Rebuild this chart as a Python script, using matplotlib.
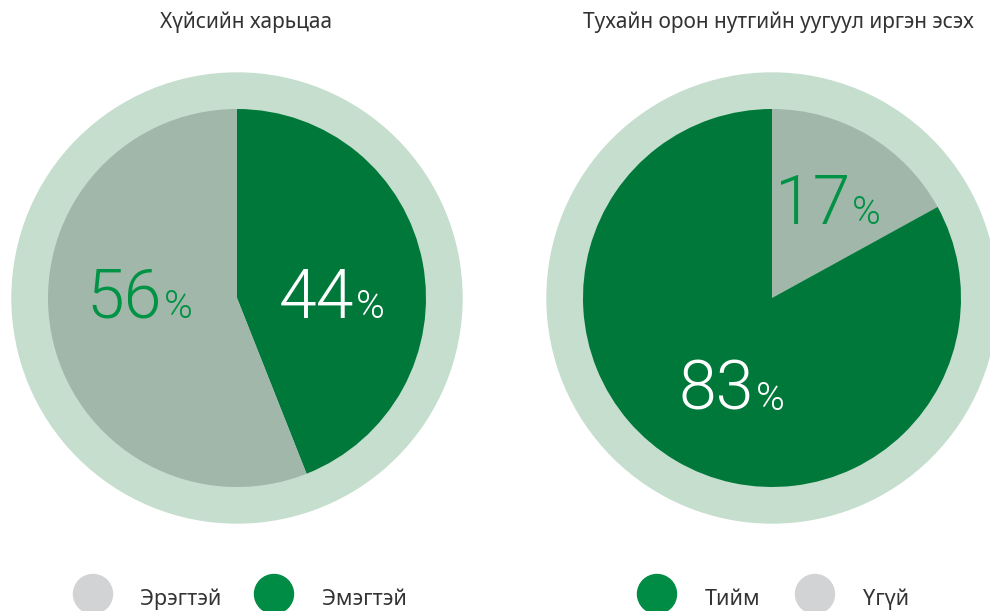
import matplotlib
matplotlib.use("Agg")
import matplotlib.pyplot as plt
from matplotlib.patches import Circle

# data
gender_labels = ["Эмэгтэй", "Эрэгтэй"]
gender_values = [44, 56]
native_labels = ["Үгүй", "Тийм"]
native_values = [17, 83]
titles = ["Хүйсийн харьцаа", "Тухайн орон нутгийн уугуул иргэн эсэх"]

DARK = "#00783A"
GREY = "#A1B7A9"
RING = "#C5DECE"
LABEL_GREEN = "#009245"
LEG_GREEN = "#008C45"
LEG_GREY = "#D1D3D4"
TXT = "#333333"

W, H = 990, 611
fig = plt.figure(figsize=(W / 100, H / 100), dpi=100)
ax = fig.add_axes([0, 0, 1, 1])

num_font = ["Roboto", "DejaVu Sans"]
txt_font = ["Noto Sans", "DejaVu Sans"]


def draw_pie(cx, cy, values, colors):
    ax.add_patch(Circle((cx, cy), 225, color=RING, zorder=0))
    ax.pie(values, colors=colors, center=(cx, cy), radius=189,
           startangle=90, counterclock=False,
           wedgeprops=dict(linewidth=0), frame=True)


def pct(x_split, y_base, value, color):
    ax.text(x_split, y_base, str(value), ha="right", va="baseline",
            fontsize=49, color=color, family=num_font, fontweight=300,
            zorder=5)
    ax.text(x_split + 1.5, y_base, "%", ha="left", va="baseline",
            fontsize=28, color=color, family=num_font, fontweight=300,
            zorder=5)


# left pie: female first, clockwise from top
draw_pie(237, H - 298, gender_values, [DARK, GREY])
pct(162, H - 318, gender_values[1], LABEL_GREEN)
pct(354, H - 318, gender_values[0], "white")

# right pie
draw_pie(772, H - 298, native_values, [GREY, DARK])
pct(850, H - 224, native_values[0], LABEL_GREEN)
pct(754, H - 410, native_values[1], "white")

# titles
ax.text(246, H - 28, titles[0], ha="center", va="baseline",
        fontsize=15, color=TXT, family=txt_font)
ax.text(778, H - 28, titles[1], ha="center", va="baseline",
        fontsize=15, color=TXT, family=txt_font)

# legends
legend_items = [
    (93, LEG_GREY, 140, gender_labels[1]),
    (274, LEG_GREEN, 322, gender_labels[0]),
    (657, LEG_GREEN, 705, native_labels[1]),
    (815, LEG_GREY, 863, native_labels[0]),
]
for cx, col, tx, lab in legend_items:
    ax.add_patch(Circle((cx, H - 594), 19.5, color=col, zorder=1))
    ax.text(tx, H - 605, lab, ha="left", va="baseline",
            fontsize=15.5, color=TXT, family=txt_font)

ax.set_xlim(0, W)
ax.set_ylim(0, H)
ax.set_aspect("equal")
ax.set_axis_off()

fig.savefig("out.png", dpi=100)
